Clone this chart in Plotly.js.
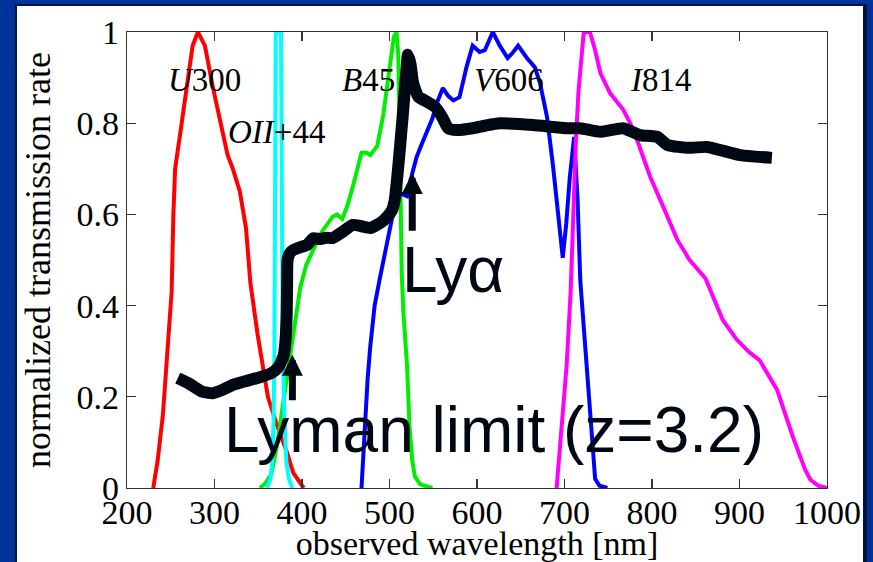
<!DOCTYPE html>
<html>
<head>
<meta charset="utf-8">
<script src="https://cdn.plot.ly/plotly-3.0.1.min.js"></script>
<style>
  html, body { margin: 0; padding: 0; width: 873px; height: 562px; overflow: hidden; background: #00339a; }
  #edge { position: absolute; left: 15px; top: 4px; width: 852px; height: 580px; background: #04123f; }
  #panel { position: absolute; left: 17px; top: 6px; width: 846px; height: 576px; background: #ffffff; }
  #chart { position: absolute; left: 0; top: 0; width: 873px; height: 562px; }
</style>
</head>
<body>
<div id="edge"></div>
<div id="panel"></div>
<div id="chart"></div>
<script>
// ---------- data ----------
const u300X = [230,235,241,247,251,253,255,261,269,275,281,289,298,306,315,321,329,336,341,349,355,361,371,383,390,398,402];
const u300Y = [0,0.06,0.16,0.31,0.43,0.6,0.7,0.78,0.89,0.97,1.0,0.97,0.88,0.81,0.73,0.70,0.65,0.57,0.45,0.34,0.265,0.2,0.14,0.077,0.033,0.011,0];

const oiiX = [360,364,366,367.5,368.5,369,369.5,370,376,376.5,377,378,380,382,385,389];
const oiiY = [0,0.02,0.06,0.15,0.3,0.5,0.8,1.0,1.0,0.8,0.5,0.3,0.15,0.06,0.02,0];

const b450X = [352,358,365,372,378,384,390,398,405,412,422,435,440,446,452,458,464,468,474,478,486,493,500,505,508,510,511,512,513,514,516,520,523,526,529,535,549];
const b450Y = [0,0.01,0.03,0.1,0.18,0.26,0.34,0.44,0.49,0.52,0.56,0.595,0.6,0.59,0.62,0.66,0.71,0.735,0.735,0.73,0.75,0.82,0.92,0.99,1.0,0.95,0.85,0.7,0.56,0.47,0.38,0.27,0.13,0.06,0.025,0.008,0];

const v606X = [468,470,472,475,478,483,489,495,502,508,514,520,526,531,537,543,549,554,561,567,573,580,588,595,603,609,618,626,635,641,647,657,666,672,680,687,692,698,702,706,711,715,718,722,726,729,732,735,740,749];
const v606Y = [0,0.08,0.16,0.24,0.31,0.40,0.46,0.52,0.59,0.64,0.645,0.64,0.69,0.726,0.755,0.78,0.81,0.844,0.877,0.86,0.85,0.857,0.923,0.97,0.956,0.96,1.0,0.97,0.943,0.955,0.97,0.943,0.923,0.888,0.814,0.704,0.62,0.505,0.58,0.68,0.77,0.63,0.456,0.35,0.25,0.16,0.08,0.02,0.005,0];

const i814X = [691,697,702.5,707,710,713,716,720,722,729,732,735,741,752,767,775,783,798,813,829,843,861,881,897,910,923,943,961,975,981,990,1000];
const i814Y = [0,0.13,0.27,0.43,0.6,0.76,0.87,0.967,1.0,1.0,0.98,0.96,0.91,0.866,0.83,0.8,0.763,0.682,0.616,0.544,0.5,0.46,0.368,0.325,0.3,0.28,0.215,0.112,0.04,0.018,0.005,0];

const specX = [258,270,285,298,310,321,335,352,365,373,379,381,382.5,383,383.5,386,390,398,406,413,420,428,435,445,458,468,478,490,497,503,506,510,515,519.6,521,524,527,533,543,552,560,567,577,595,610,626,664,703,718,741,767,786,806,818,843,863,901,937];
const specY = [0.241,0.23,0.212,0.208,0.216,0.226,0.234,0.243,0.252,0.265,0.29,0.32,0.38,0.45,0.5,0.515,0.522,0.528,0.533,0.548,0.546,0.549,0.548,0.56,0.577,0.574,0.57,0.582,0.594,0.61,0.632,0.704,0.814,0.923,0.95,0.93,0.888,0.858,0.847,0.836,0.814,0.789,0.785,0.789,0.795,0.8,0.796,0.789,0.789,0.781,0.789,0.774,0.77,0.752,0.746,0.748,0.73,0.724];

const xTickVals = [200,300,400,500,600,700,800,900,1000];
const xTickText = ['200','300','400','500','600','700','800','900','1000'];
const yTickVals = [0,0.2,0.4,0.6,0.8,1];
const yTickText = ['0','0.2','0.4','0.6','0.8','1'];

const filterLabels = ['<i>U</i>300','<i>OII</i>+44','<i>B</i>45','<i>V</i>606','<i>I</i>814'];
const filterLabelX = [288,371,476,637,810];
const filterLabelY = [0.895,0.781,0.895,0.895,0.895];

// arrows: [tipX, tipY, tailY]
const lymanArrow = [389, 0.292, 0.189];
const lyaArrow = [526, 0.691, 0.561];

// ---------- styles ----------
const SERIF = 'Liberation Serif, Times New Roman, serif';
const SANS = 'Liberation Sans, Arial, sans-serif';
const INK = '#000814';

function band(x, y, color) {
  return { x: x, y: y, type: 'scatter', mode: 'lines', line: { color: color, width: 4 }, hoverinfo: 'skip' };
}

const traces = [
  band(u300X, u300Y, '#ff0000'),
  band(b450X, b450Y, '#00ee00'),
  band(v606X, v606Y, '#0000ff'),
  band(oiiX, oiiY, '#00ffff'),
  band(i814X, i814Y, '#ff00ff'),
  { x: specX, y: specY, type: 'scatter', mode: 'lines',
    line: { color: INK, width: 12, shape: 'spline', smoothing: 0.5 }, hoverinfo: 'skip' }
];

const annotations = filterLabels.map((t, i) => ({
  x: filterLabelX[i], y: filterLabelY[i], xref: 'x', yref: 'y', text: t, showarrow: false,
  font: { family: SERIF, size: 33, color: '#000' }, xanchor: 'center', yanchor: 'middle'
}));

[lymanArrow, lyaArrow].forEach(a => {
  annotations.push({
    x: a[0], y: a[1], ax: a[0], ay: a[2], xref: 'x', yref: 'y', axref: 'x', ayref: 'y',
    text: '', showarrow: true, arrowhead: 2, arrowsize: 0.6, arrowwidth: 7, arrowcolor: INK
  });
});

annotations.push({
  x: 512, y: 0.478, xref: 'x', yref: 'y', text: 'Lyα', showarrow: false,
  font: { family: SANS, size: 64, color: INK }, xanchor: 'left', yanchor: 'middle'
});
annotations.push({
  x: 308.6, y: 0.127, xref: 'x', yref: 'y', text: 'Lyman limit (z=3.2)', showarrow: false,
  font: { family: SANS, size: 64, color: INK }, xanchor: 'left', yanchor: 'middle'
});

const axisCommon = {
  showline: true, linecolor: '#333', linewidth: 1.3, mirror: 'ticks',
  ticks: 'inside', ticklen: 9, tickcolor: '#333', tickwidth: 1.3,
  showgrid: false, zeroline: false, tickmode: 'array',
  tickfont: { family: SERIF, size: 34, color: '#000' }
};

const layout = {
  width: 873, height: 562,
  paper_bgcolor: 'rgba(0,0,0,0)', plot_bgcolor: '#ffffff',
  margin: { l: 127, r: 46, t: 32, b: 74 },
  showlegend: false,
  xaxis: Object.assign({}, axisCommon, {
    range: [200, 1000], tickvals: xTickVals, ticktext: xTickText, ticklabelstandoff: -6,
    title: { text: 'observed wavelength [nm]', font: { family: SERIF, size: 34, color: '#000' }, standoff: 0 }
  }),
  yaxis: Object.assign({}, axisCommon, {
    range: [0, 1], tickvals: yTickVals, ticktext: yTickText,
    title: { text: 'normalized transmission rate', font: { family: SERIF, size: 36, color: '#000' }, standoff: 14 }
  }),
  annotations: annotations
};

Plotly.newPlot('chart', traces, layout, { staticPlot: true, displayModeBar: false });
</script>
</body>
</html>
